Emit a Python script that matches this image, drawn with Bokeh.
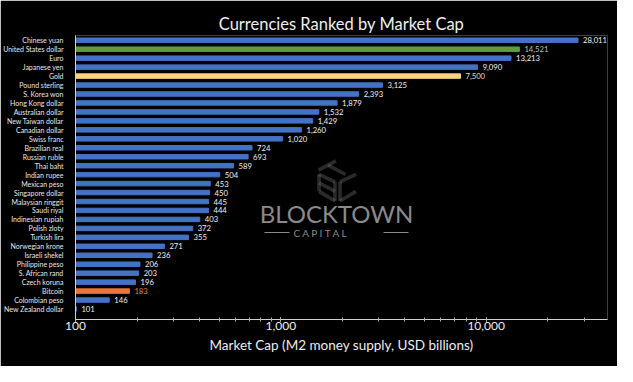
from bokeh.plotting import figure
from bokeh.models import (ColumnDataSource, Range1d, FixedTicker, LogTicker,
                          NumeralTickFormatter, Label, PolyAnnotation, BoxAnnotation)
from bokeh.core.properties import value
from bokeh.embed import file_html
from bokeh.resources import INLINE

# ---- data (top to bottom) ----
currencies = ["Chinese yuan", "United States dollar", "Euro", "Japanese yen", "Gold",
              "Pound sterling", "S. Korea won", "Hong Kong dollar", "Australian dollar",
              "New Taiwan dollar", "Canadian dollar", "Swiss franc", "Brazilian real",
              "Russian ruble", "Thai baht", "Indian rupee", "Mexican peso",
              "Singapore dollar", "Malaysian ringgit", "Saudi riyal", "Indinesian rupiah",
              "Polish zloty", "Turkish lira", "Norwegian krone", "Israeli shekel",
              "Philippine peso", "S. African rand", "Czech koruna", "Bitcoin",
              "Colombian peso", "New Zealand dollar"]
market_cap = [28011, 14521, 13213, 9090, 7500, 3125, 2393, 1879, 1532, 1429, 1260,
              1020, 724, 693, 589, 504, 453, 450, 445, 444, 403, 372, 355, 271, 236,
              206, 203, 196, 183, 146, 101]
title_text = "Currencies Ranked by Market Cap"
x_label = "Market Cap (M2 money supply, USD billions)"

BLUE = "#4472C4"
GREEN = "#5E9B41"
GOLD = "#FAD37E"
ORANGE = "#EC7637"
special_bar = {"United States dollar": GREEN, "Gold": GOLD, "Bitcoin": ORANGE}
special_lbl = {"United States dollar": "#b9c4b3", "Gold": "#e6dcc2", "Bitcoin": ORANGE}

n = len(currencies)
ypos = [n - 1 - i for i in range(n)]
bar_colors = [special_bar.get(c, BLUE) for c in currencies]
lbl_colors = [special_lbl.get(c, "#f0f0f0") for c in currencies]
labels = [f"{v:,}" for v in market_cap]
base = [100] * n

src = ColumnDataSource(dict(y=ypos, right=market_cap, left=base, color=bar_colors,
                            lcolor=lbl_colors, label=labels))

p = figure(width=617, height=366, x_axis_type="log",
           x_range=Range1d(100, 39000), y_range=Range1d(-1.17, n - 0.47),
           output_backend="svg", toolbar_location=None,
           background_fill_color="black", border_fill_color="black",
           min_border_left=74, min_border_right=10, min_border_top=35, min_border_bottom=47)
p.outline_line_color = None
p.grid.visible = False

p.hbar(y="y", left="left", right="right", height=0.5, color="color", source=src)
p.text(x="right", y="y", text="label", text_color="lcolor", source=src,
       x_offset=5, text_baseline="middle", text_align="left",
       text_font=value("Lato"), text_font_size="7.7px")

# title
p.title.text = title_text
p.title.align = "center"
p.title.offset = -13
p.title.text_color = "#eeeeee"
p.title.text_font = "Lato"
p.title.text_font_style = "normal"
p.title.text_font_size = "16.5px"
p.title.standoff = 4

# x axis
xa = p.xaxis[0]
xa.ticker = LogTicker(desired_num_ticks=3, num_minor_ticks=10)
xa.formatter = NumeralTickFormatter(format="0,0")
xa.axis_label = x_label
xa.axis_label_text_color = "#eeeeee"
xa.axis_label_text_font = "Lato"
xa.axis_label_text_font_style = "normal"
xa.axis_label_text_font_size = "13.5px"
xa.axis_label_standoff = 4
xa.major_label_text_color = "#eeeeee"
xa.major_label_text_font = "Lato"
xa.major_label_text_font_size = "12px"
xa.major_label_standoff = 0
xa.axis_line_color = "#d0d0d0"
xa.major_tick_line_color = "#b0b0b0"
xa.minor_tick_line_color = "#b0b0b0"
xa.major_tick_in = 2
xa.major_tick_out = 2
xa.minor_tick_in = 2
xa.minor_tick_out = 2

# y axis
ya = p.yaxis[0]
ya.ticker = FixedTicker(ticks=ypos)
ya.major_label_overrides = {y: c for y, c in zip(ypos, currencies)}
ya.major_label_text_color = "#e8e8e8"
ya.major_label_text_font = "Lato"
ya.major_label_text_font_size = "7px"
ya.major_label_standoff = 6
ya.axis_line_color = "#d0d0d0"
ya.major_tick_line_color = None
ya.minor_tick_line_color = None

# ---- watermark (screen units, relative to the plot frame) ----
WM = "#8a8a8a"
p.add_layout(Label(x=261, y=106, x_units="screen", y_units="screen", text="BLOCKTOWN",
                   text_color=WM, text_font="Lato", text_font_size="24px",
                   text_align="center", text_baseline="middle"))
p.add_layout(Label(x=261, y=87, x_units="screen", y_units="screen",
                   text="C   A   P   I   T   A   L",
                   text_color=WM, text_font="Lato", text_font_size="10px",
                   text_align="center", text_baseline="middle"))
for l, r in [(189, 214), (308, 333)]:
    p.add_layout(BoxAnnotation(left=l, right=r, bottom=86.5, top=87.5,
                               left_units="screen", right_units="screen",
                               top_units="screen", bottom_units="screen",
                               fill_color=WM, fill_alpha=1, line_color=None))

# cube logo (isometric): T on top face, B on left face, C on right face
cx, cy = 262.0, 138.0
hx, hy, vz = 21.0, 11.3, 22.5


def pt(a, b, c=0.0):
    # a: along upper-right axis, b: along upper-left axis, c: up
    return (cx + hx * (a - b), cy + hy * (a + b) + vz * c)


def seg(p1, p2):
    p.add_layout(PolyAnnotation(xs=[p1[0], p2[0]], ys=[p1[1], p2[1]],
                                xs_units="screen", ys_units="screen",
                                line_color=WM, line_width=3.6, fill_alpha=0))


s = 0.12
# left face (B)
B = [pt(0, 1 - s, -s), pt(0, s, -s * 0.6), pt(0, s, -1 + s * 0.6), pt(0, 1 - s, -1 + s)]
seg(B[0], B[1]); seg(B[1], B[2]); seg(B[2], B[3]); seg(B[3], B[0])
seg(pt(0, 1 - s, -0.5), pt(0, s, -0.5))
# right face (C)
C = [pt(s, 0, -s * 0.6), pt(1 - s, 0, -s), pt(1 - s, 0, -1 + s), pt(s, 0, -1 + s * 0.6)]
seg(C[1], C[0]); seg(C[0], C[3]); seg(C[3], C[2])
# top face (T)
seg(pt(1 - s, 1 - s * 0.4, 0), pt(s * 0.4, 1 - s * 0.4, 0))
seg(pt(0.5, 1 - s * 0.4, 0), pt(0.5, s, 0))

open("out.html", "w").write(file_html(p, INLINE))
